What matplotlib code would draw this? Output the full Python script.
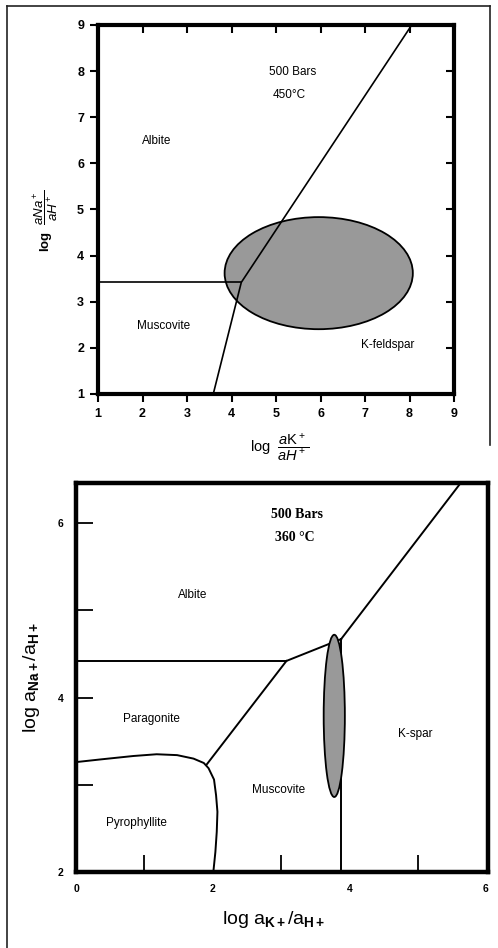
import matplotlib
matplotlib.use("Agg")
import matplotlib.pyplot as plt
from matplotlib.patches import Ellipse
from matplotlib.lines import Line2D

plt.rcParams['font.family'] = ['Liberation Sans', 'DejaVu Sans']
plt.rcParams['mathtext.fontset'] = 'custom'
plt.rcParams['mathtext.rm'] = 'Liberation Sans'
plt.rcParams['mathtext.it'] = 'Liberation Sans:italic'
plt.rcParams['mathtext.bf'] = 'Liberation Sans:bold'

# ---- top diagram: 500 bars, 450 C ----
top_ticks = [1, 2, 3, 4, 5, 6, 7, 8, 9]
top_kf_x = [3.59, 4.22, 8.05]      # albite/muscovite | K-feldspar boundary
top_kf_y = [1.0, 3.42, 9.0]
top_ms_x = [1.0, 4.22]             # albite | muscovite boundary
top_ms_y = [3.42, 3.42]
top_ell = (5.96, 3.62, 4.23, 2.43)  # cx, cy, width, height
top_labels = [("Albite", 2.32, 6.49), ("Muscovite", 2.47, 2.47),
              ("K-feldspar", 7.51, 2.07), ("500 Bars", 5.38, 7.98),
              ("450°C", 5.3, 7.48)]

# ---- bottom diagram: 500 bars, 360 C ----
bot_xticks = [0, 2, 4, 6]
bot_xminor = [1, 3, 4, 5]
bot_yticks = [2, 4, 6]
bot_yminor = [3, 5]
ab_pg_x = [0.0, 3.08]
ab_pg_y = [4.42, 4.42]
ab_ms_x = [3.08, 3.88]
ab_ms_y = [4.42, 4.67]
ab_ks_x = [3.88, 5.63]
ab_ks_y = [4.67, 6.46]
pg_ms_x = [1.91, 3.08]
pg_ms_y = [3.23, 4.42]
ms_ks_x = [3.88, 3.88]
ms_ks_y = [4.67, 2.0]
pg_py_x = [0.0, 0.35, 0.84, 1.18, 1.48, 1.72, 1.87, 1.94, 2.02, 2.05, 2.07, 2.06, 2.04, 2.01]
pg_py_y = [3.26, 3.29, 3.33, 3.35, 3.34, 3.30, 3.25, 3.19, 3.06, 2.88, 2.69, 2.46, 2.23, 2.0]
bot_ell = (3.78, 3.79, 0.31, 1.86)
bot_labels = [("Albite", 1.71, 5.18), ("Paragonite", 1.10, 3.75),
              ("K-spar", 4.97, 3.58), ("Muscovite", 2.97, 2.94),
              ("Pyrophyllite", 0.89, 2.56)]

fig = plt.figure(figsize=(4.98, 9.48), dpi=100)

# top panel
ax1 = fig.add_axes([98/498, 1-394/948, 356/498, 369/948])
ax1.set_xlim(1, 9)
ax1.set_ylim(1, 9)
ax1.add_patch(Ellipse(top_ell[:2], top_ell[2], top_ell[3], facecolor='#999999',
                      edgecolor='black', lw=1.3, zorder=2))
ax1.plot(top_kf_x, top_kf_y, color='black', lw=1.2, zorder=3)
ax1.plot(top_ms_x, top_ms_y, color='black', lw=1.2, zorder=3)
for txt, x, y in top_labels:
    ax1.text(x, y, txt, ha='center', va='center', fontsize=8.5)
for s in ax1.spines.values():
    s.set_linewidth(3)
ax1.set_xticks(top_ticks)
ax1.set_yticks(top_ticks)
ax1.tick_params(direction='out', length=6, width=1.5, labelsize=9, pad=4)
for lab in ax1.get_xticklabels() + ax1.get_yticklabels():
    lab.set_fontweight('bold')
sx = ax1.secondary_xaxis('top')
sx.set_xticks(top_ticks[1:-1])
sx.tick_params(direction='in', length=6, width=1.5, labeltop=False)
sy = ax1.secondary_yaxis('right')
sy.set_yticks(top_ticks[1:-1])
sy.tick_params(direction='in', length=6, width=1.5, labelright=False)
for s in list(sx.spines.values()) + list(sy.spines.values()):
    s.set_visible(False)
ax1.set_xlabel(r'log  $\dfrac{a\mathrm{K}^+}{aH^+}$', fontsize=10.5)
ax1.xaxis.set_label_coords(0.51, -0.1)
ax1.set_ylabel(r'$\mathbf{log}$  $\dfrac{aNa^+}{aH^+}$', fontsize=9.5)
ax1.yaxis.set_label_coords(-0.105, 0.47)

# bottom panel
ax2 = fig.add_axes([76/498, 1-872/948, 412/498, 389/948])
ax2.set_xlim(0, 6.03)
ax2.set_ylim(2, 6.46)
for xs, ys in [(ab_pg_x, ab_pg_y), (ab_ms_x, ab_ms_y), (ab_ks_x, ab_ks_y),
               (pg_ms_x, pg_ms_y), (ms_ks_x, ms_ks_y), (pg_py_x, pg_py_y)]:
    ax2.plot(xs, ys, color='black', lw=1.4, zorder=3)
ax2.add_patch(Ellipse(bot_ell[:2], bot_ell[2], bot_ell[3], facecolor='#999999',
                      edgecolor='black', lw=1.3, zorder=4))
for txt, x, y in bot_labels:
    ax2.text(x, y, txt, ha='center', va='center', fontsize=8.5)
ax2.text(3.23, 6.10, "500 Bars", ha='center', va='center', fontsize=10,
         family='Liberation Serif', fontweight='bold')
ax2.text(3.2, 5.83, "360 °C", ha='center', va='center', fontsize=10,
         family='Liberation Serif', fontweight='bold')
for s in ax2.spines.values():
    s.set_linewidth(3.2)
ax2.set_xticks(bot_xticks)
ax2.set_xticks(bot_xminor, minor=True)
ax2.set_yticks(bot_yticks)
ax2.set_yticks(bot_yminor, minor=True)
ax2.tick_params(which='major', direction='in', length=0, labelsize=7.5, pad=9)
ax2.tick_params(axis='y', which='major', length=12, width=1.3)
ax2.tick_params(which='minor', direction='in', length=12, width=1.3)
for lab in ax2.get_xticklabels() + ax2.get_yticklabels():
    lab.set_fontweight('bold')
ax2.set_xlabel(r'log a$_{\mathbf{K+}}$/a$_{\mathbf{H+}}$', fontsize=14)
ax2.xaxis.set_label_coords(0.48, -0.095)
ax2.set_ylabel(r'log a$_{\mathbf{Na+}}$/a$_{\mathbf{H+}}$', fontsize=14)
ax2.yaxis.set_label_coords(-0.083, 0.5)

# outer frame of the scanned page
fig.add_artist(Line2D([7/498, 7/498], [1-6/948, 0], color='#222222', lw=1.2))
fig.add_artist(Line2D([7/498, 490/498], [1-6/948, 1-6/948], color='#222222', lw=1.2))
fig.add_artist(Line2D([490/498, 490/498], [1-6/948, 1-445/948], color='#222222', lw=1.2))

fig.savefig("out.png", dpi=100)
